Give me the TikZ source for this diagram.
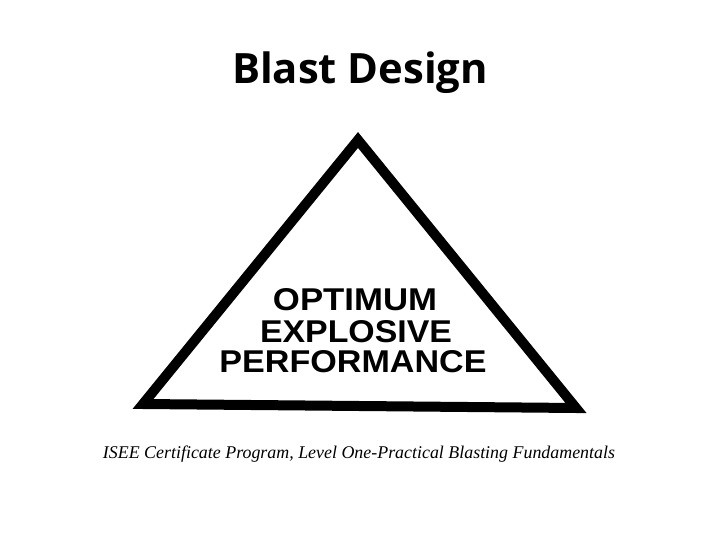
\documentclass[tikz,border=0pt]{standalone}
\usepackage{fontspec}
\setmainfont{Liberation Serif}
\newfontfamily\titlefont{Open Sans}
\newfontfamily\heavyfont{Liberation Sans}
\newfontfamily\capfont{Liberation Serif}
\begin{document}
\begin{tikzpicture}[x=1pt,y=-1pt,
  tri/.style={draw=black,line width=10pt,line join=miter,fill=white},
  titletext/.style={font=\titlefont\bfseries\fontsize{40}{44}\selectfont,inner sep=0pt,anchor=base},
  innertext/.style={font=\heavyfont\bfseries\fontsize{31}{31}\selectfont,inner sep=0pt,anchor=base},
  captext/.style={font=\capfont\itshape,inner sep=0pt,anchor=base}]
\useasboundingbox[fill=white] (0,0) rectangle (720,540);
\coordinate (apex) at (358,140);
\coordinate (left) at (143,404);
\coordinate (right) at (576,408);
\draw[tri] (apex) -- (left) -- (right) -- cycle;
\node[titletext] (title) at (360,84) {\resizebox{256pt}{!}{Blast Design}};
\node[innertext] (l1) at (355,310) {\resizebox{164pt}{22pt}{OPTIMUM}};
\node[innertext] (l2) at (356,342) {\resizebox{192pt}{22pt}{EXPLOSIVE}};
\node[innertext] (l3) at (353,372) {\resizebox{267pt}{22pt}{PERFORMANCE}};
\node[captext] (cap) at (359,458) {\resizebox{512pt}{!}{ISEE Certificate Program, Level One-Practical Blasting Fundamentals}};
\end{tikzpicture}
\end{document}
